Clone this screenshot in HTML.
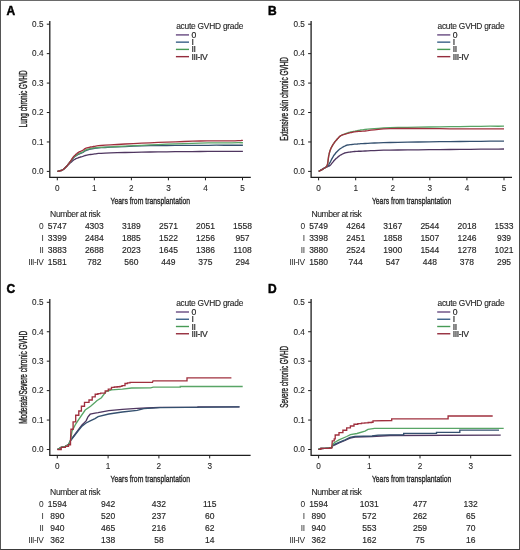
<!DOCTYPE html>
<html><head><meta charset="utf-8"><style>
html,body{margin:0;padding:0;background:#fff;}
body{width:520px;height:550px;overflow:hidden;position:relative;}
svg{display:block;font-family:"Liberation Sans", sans-serif;filter:blur(0.3px);}
</style></head><body>
<svg width="520" height="550" viewBox="0 0 520 550">
<rect x="0" y="0" width="520" height="550" fill="#fff"/>
<path d="M49.80,21.00 V177.30 H250.80" fill="none" stroke="#1e1e1e" stroke-width="1.3"/>
<line x1="46.80" y1="171.40" x2="49.80" y2="171.40" stroke="#1e1e1e" stroke-width="1"/>
<text x="43.50" y="174.20" text-anchor="end" font-size="8.2" fill="#262626" stroke="#262626" stroke-width="0.1">0.0</text>
<line x1="46.80" y1="141.96" x2="49.80" y2="141.96" stroke="#1e1e1e" stroke-width="1"/>
<text x="43.50" y="144.76" text-anchor="end" font-size="8.2" fill="#262626" stroke="#262626" stroke-width="0.1">0.1</text>
<line x1="46.80" y1="112.52" x2="49.80" y2="112.52" stroke="#1e1e1e" stroke-width="1"/>
<text x="43.50" y="115.32" text-anchor="end" font-size="8.2" fill="#262626" stroke="#262626" stroke-width="0.1">0.2</text>
<line x1="46.80" y1="83.08" x2="49.80" y2="83.08" stroke="#1e1e1e" stroke-width="1"/>
<text x="43.50" y="85.88" text-anchor="end" font-size="8.2" fill="#262626" stroke="#262626" stroke-width="0.1">0.3</text>
<line x1="46.80" y1="53.64" x2="49.80" y2="53.64" stroke="#1e1e1e" stroke-width="1"/>
<text x="43.50" y="56.44" text-anchor="end" font-size="8.2" fill="#262626" stroke="#262626" stroke-width="0.1">0.4</text>
<line x1="46.80" y1="24.20" x2="49.80" y2="24.20" stroke="#1e1e1e" stroke-width="1"/>
<text x="43.50" y="27.00" text-anchor="end" font-size="8.2" fill="#262626" stroke="#262626" stroke-width="0.1">0.5</text>
<line x1="57.30" y1="177.30" x2="57.30" y2="180.30" stroke="#1e1e1e" stroke-width="1"/>
<text x="57.30" y="190.50" text-anchor="middle" font-size="8.2" fill="#262626" stroke="#262626" stroke-width="0.1">0</text>
<line x1="94.34" y1="177.30" x2="94.34" y2="180.30" stroke="#1e1e1e" stroke-width="1"/>
<text x="94.34" y="190.50" text-anchor="middle" font-size="8.2" fill="#262626" stroke="#262626" stroke-width="0.1">1</text>
<line x1="131.38" y1="177.30" x2="131.38" y2="180.30" stroke="#1e1e1e" stroke-width="1"/>
<text x="131.38" y="190.50" text-anchor="middle" font-size="8.2" fill="#262626" stroke="#262626" stroke-width="0.1">2</text>
<line x1="168.42" y1="177.30" x2="168.42" y2="180.30" stroke="#1e1e1e" stroke-width="1"/>
<text x="168.42" y="190.50" text-anchor="middle" font-size="8.2" fill="#262626" stroke="#262626" stroke-width="0.1">3</text>
<line x1="205.46" y1="177.30" x2="205.46" y2="180.30" stroke="#1e1e1e" stroke-width="1"/>
<text x="205.46" y="190.50" text-anchor="middle" font-size="8.2" fill="#262626" stroke="#262626" stroke-width="0.1">4</text>
<line x1="242.50" y1="177.30" x2="242.50" y2="180.30" stroke="#1e1e1e" stroke-width="1"/>
<text x="242.50" y="190.50" text-anchor="middle" font-size="8.2" fill="#262626" stroke="#262626" stroke-width="0.1">5</text>
<text x="110.60" y="204.40" font-size="9.7" textLength="79.4" lengthAdjust="spacingAndGlyphs" fill="#262626" stroke="#262626" stroke-width="0.35">Years from transplantation</text>
<text transform="translate(26.70,98.90) rotate(-90)" x="0" y="0" text-anchor="middle" font-size="10.3" textLength="57" lengthAdjust="spacingAndGlyphs" fill="#262626" stroke="#262626" stroke-width="0.4">Lung chronic GVHD</text>
<text x="176.20" y="29.20" font-size="8.4" letter-spacing="-0.24" fill="#262626" stroke="#262626" stroke-width="0.12">acute GVHD grade</text>
<line x1="175.90" y1="34.90" x2="189.00" y2="34.90" stroke="#674a80" stroke-width="1.4"/>
<text x="191.50" y="37.90" font-size="8.6" letter-spacing="-0.4" fill="#262626" stroke="#262626" stroke-width="0.2">0</text>
<line x1="175.90" y1="42.15" x2="189.00" y2="42.15" stroke="#3a6088" stroke-width="1.4"/>
<text x="191.50" y="45.15" font-size="8.6" letter-spacing="-0.4" fill="#262626" stroke="#262626" stroke-width="0.2">I</text>
<line x1="175.90" y1="49.40" x2="189.00" y2="49.40" stroke="#479a55" stroke-width="1.4"/>
<text x="191.50" y="52.40" font-size="8.6" letter-spacing="-0.4" fill="#262626" stroke="#262626" stroke-width="0.2">II</text>
<line x1="175.90" y1="56.65" x2="189.00" y2="56.65" stroke="#952c3c" stroke-width="1.4"/>
<text x="191.50" y="59.65" font-size="8.6" letter-spacing="-0.4" fill="#262626" stroke="#262626" stroke-width="0.2">III-IV</text>
<polyline points="57.4,171.4 57.9,171.3 58.6,171.1 59.4,171.0 60.3,170.7 61.2,170.5 61.9,170.2 62.5,169.9 63.2,169.5 63.8,169.0 64.3,168.5 64.9,168.1 65.4,167.6 65.9,167.1 66.4,166.6 66.9,166.1 67.4,165.6 67.8,165.1 68.3,164.6 68.8,164.2 69.3,163.7 69.8,163.3 70.2,162.9 70.7,162.5 71.2,162.1 71.7,161.7 72.1,161.3 72.5,160.9 73.0,160.5 73.5,160.2 74.0,159.8 74.6,159.4 75.3,159.1 75.9,158.7 76.6,158.4 77.4,158.1 78.1,157.8 78.9,157.5 79.6,157.3 80.5,157.0 81.2,156.8 82.0,156.6 82.7,156.4 83.3,156.2 83.7,156.0 84.2,155.8 84.6,155.7 85.2,155.5 86.0,155.3 87.0,155.1 88.0,154.9 89.2,154.7 90.5,154.5 92.0,154.3 93.5,154.1 94.8,153.9 95.8,153.8 96.9,153.6 98.5,153.4 101.1,153.3 105.0,153.1 110.5,152.9 117.3,152.7 125.1,152.5 133.4,152.3 141.8,152.1 150.0,152.0 158.1,151.9 166.6,151.8 175.1,151.7 183.7,151.6 192.0,151.6 200.0,151.5 208.1,151.4 216.4,151.4 224.6,151.4 232.0,151.3 238.3,151.3 242.9,151.3" fill="none" stroke="#4f3660" stroke-width="1.35" stroke-linejoin="miter"/>
<polyline points="57.4,171.4 57.9,171.3 58.6,171.1 59.4,171.0 60.3,170.7 61.2,170.5 61.9,170.2 62.5,169.9 63.2,169.5 63.8,169.0 64.3,168.6 64.9,168.1 65.4,167.6 65.9,167.1 66.4,166.5 66.9,166.0 67.4,165.4 67.8,164.8 68.3,164.2 68.8,163.6 69.3,163.0 69.8,162.4 70.2,161.8 70.7,161.2 71.2,160.6 71.7,160.0 72.1,159.5 72.5,158.9 73.0,158.4 73.5,157.8 74.0,157.3 74.6,156.8 75.3,156.3 75.9,155.8 76.6,155.4 77.4,154.9 78.1,154.5 78.9,154.1 79.6,153.8 80.5,153.4 81.2,153.1 82.0,152.8 82.7,152.5 83.3,152.2 83.7,151.8 84.2,151.5 84.6,151.2 85.2,150.8 86.0,150.5 87.0,150.2 88.0,149.8 89.2,149.4 90.5,149.1 92.0,148.8 93.5,148.5 94.8,148.3 95.8,148.1 96.9,148.0 98.5,147.9 101.1,147.7 105.0,147.5 110.5,147.2 117.3,146.9 125.1,146.6 133.4,146.2 141.8,145.9 150.0,145.7 158.1,145.5 166.6,145.5 175.1,145.4 183.7,145.4 192.0,145.3 200.0,145.3 208.1,145.3 216.4,145.2 224.6,145.2 232.0,145.2 238.3,145.2 242.9,145.2" fill="none" stroke="#34506f" stroke-width="1.35" stroke-linejoin="miter"/>
<polyline points="57.4,171.4 57.9,171.3 58.6,171.1 59.4,171.0 60.3,170.7 61.2,170.5 61.9,170.2 62.5,169.9 63.2,169.5 63.8,169.0 64.3,168.6 64.9,168.1 65.4,167.6 65.9,167.1 66.4,166.5 66.9,166.0 67.4,165.4 67.8,164.8 68.3,164.2 68.8,163.6 69.3,162.9 69.8,162.3 70.2,161.7 70.7,161.0 71.2,160.4 71.7,159.8 72.1,159.2 72.5,158.7 73.0,158.1 73.5,157.5 74.0,157.0 74.6,156.5 75.3,155.9 75.9,155.4 76.6,154.9 77.4,154.4 78.1,154.0 78.9,153.6 79.6,153.3 80.5,153.0 81.2,152.6 82.0,152.3 82.7,152.0 83.3,151.6 83.7,151.3 84.2,150.9 84.6,150.5 85.2,150.1 86.0,149.8 87.0,149.5 88.0,149.1 89.2,148.8 90.5,148.5 92.0,148.2 93.5,148.0 94.8,147.8 95.8,147.7 96.9,147.6 98.5,147.5 101.1,147.4 105.0,147.2 110.5,146.9 117.3,146.5 125.1,146.1 133.4,145.7 141.8,145.3 150.0,144.9 158.1,144.6 166.6,144.2 175.1,143.9 183.7,143.6 192.0,143.3 200.0,143.1 208.1,142.9 216.4,142.8 224.6,142.8 232.0,142.8 238.3,142.7 242.9,142.7" fill="none" stroke="#58a566" stroke-width="1.35" stroke-linejoin="miter"/>
<polyline points="57.4,171.4 57.9,171.3 58.6,171.1 59.4,171.0 60.3,170.7 61.2,170.5 61.9,170.2 62.5,169.9 63.2,169.5 63.8,169.0 64.3,168.6 64.9,168.1 65.4,167.6 65.9,167.1 66.4,166.6 66.9,166.0 67.4,165.4 67.8,164.8 68.3,164.2 68.8,163.6 69.3,162.9 69.8,162.2 70.2,161.5 70.7,160.8 71.2,160.1 71.7,159.4 72.1,158.7 72.5,158.1 73.0,157.4 73.5,156.7 74.0,156.1 74.6,155.5 75.3,154.9 75.9,154.2 76.6,153.7 77.4,153.1 78.1,152.6 78.9,152.1 79.6,151.7 80.5,151.4 81.2,151.0 82.0,150.7 82.7,150.3 83.3,149.9 83.7,149.6 84.2,149.2 84.6,148.9 85.2,148.5 86.0,148.2 87.0,147.9 88.0,147.6 89.2,147.3 90.5,147.0 92.0,146.8 93.5,146.5 94.8,146.3 95.8,146.1 96.9,145.9 98.5,145.7 101.1,145.5 105.0,145.2 110.5,144.9 117.3,144.5 125.1,144.0 133.4,143.6 141.8,143.2 150.0,142.8 158.2,142.4 166.9,142.1 175.6,141.8 184.3,141.5 192.5,141.2 200.0,141.0 207.0,140.9 213.8,140.8 220.1,140.8 225.9,140.8 230.9,140.8 235.0,140.8 238.0,140.7 239.9,140.6 241.1,140.5 241.9,140.4 242.4,140.4 242.9,140.3" fill="none" stroke="#a0303e" stroke-width="1.35" stroke-linejoin="miter"/>
<text x="6.60" y="14.60" font-size="12" font-weight="bold" fill="#000" stroke="#000" stroke-width="0.45">A</text>
<text x="50.10" y="216.80" font-size="8.6" letter-spacing="-0.42" fill="#262626" stroke="#262626" stroke-width="0.1">Number at risk</text>
<text x="43.30" y="228.50" text-anchor="end" font-size="8.4" letter-spacing="-0.45" fill="#262626">0</text>
<text x="57.30" y="228.50" text-anchor="middle" font-size="8.5" fill="#262626" stroke="#262626" stroke-width="0.15">5747</text>
<text x="94.34" y="228.50" text-anchor="middle" font-size="8.5" fill="#262626" stroke="#262626" stroke-width="0.15">4303</text>
<text x="131.38" y="228.50" text-anchor="middle" font-size="8.5" fill="#262626" stroke="#262626" stroke-width="0.15">3189</text>
<text x="168.42" y="228.50" text-anchor="middle" font-size="8.5" fill="#262626" stroke="#262626" stroke-width="0.15">2571</text>
<text x="205.46" y="228.50" text-anchor="middle" font-size="8.5" fill="#262626" stroke="#262626" stroke-width="0.15">2051</text>
<text x="242.50" y="228.50" text-anchor="middle" font-size="8.5" fill="#262626" stroke="#262626" stroke-width="0.15">1558</text>
<text x="43.30" y="240.57" text-anchor="end" font-size="8.4" letter-spacing="-0.45" fill="#262626">I</text>
<text x="57.30" y="240.57" text-anchor="middle" font-size="8.5" fill="#262626" stroke="#262626" stroke-width="0.15">3399</text>
<text x="94.34" y="240.57" text-anchor="middle" font-size="8.5" fill="#262626" stroke="#262626" stroke-width="0.15">2484</text>
<text x="131.38" y="240.57" text-anchor="middle" font-size="8.5" fill="#262626" stroke="#262626" stroke-width="0.15">1885</text>
<text x="168.42" y="240.57" text-anchor="middle" font-size="8.5" fill="#262626" stroke="#262626" stroke-width="0.15">1522</text>
<text x="205.46" y="240.57" text-anchor="middle" font-size="8.5" fill="#262626" stroke="#262626" stroke-width="0.15">1256</text>
<text x="242.50" y="240.57" text-anchor="middle" font-size="8.5" fill="#262626" stroke="#262626" stroke-width="0.15">957</text>
<text x="43.30" y="252.64" text-anchor="end" font-size="8.4" letter-spacing="-0.45" fill="#262626">II</text>
<text x="57.30" y="252.64" text-anchor="middle" font-size="8.5" fill="#262626" stroke="#262626" stroke-width="0.15">3883</text>
<text x="94.34" y="252.64" text-anchor="middle" font-size="8.5" fill="#262626" stroke="#262626" stroke-width="0.15">2688</text>
<text x="131.38" y="252.64" text-anchor="middle" font-size="8.5" fill="#262626" stroke="#262626" stroke-width="0.15">2023</text>
<text x="168.42" y="252.64" text-anchor="middle" font-size="8.5" fill="#262626" stroke="#262626" stroke-width="0.15">1645</text>
<text x="205.46" y="252.64" text-anchor="middle" font-size="8.5" fill="#262626" stroke="#262626" stroke-width="0.15">1386</text>
<text x="242.50" y="252.64" text-anchor="middle" font-size="8.5" fill="#262626" stroke="#262626" stroke-width="0.15">1108</text>
<text x="43.30" y="264.71" text-anchor="end" font-size="8.4" letter-spacing="-0.45" fill="#262626">III-IV</text>
<text x="57.30" y="264.71" text-anchor="middle" font-size="8.5" fill="#262626" stroke="#262626" stroke-width="0.15">1581</text>
<text x="94.34" y="264.71" text-anchor="middle" font-size="8.5" fill="#262626" stroke="#262626" stroke-width="0.15">782</text>
<text x="131.38" y="264.71" text-anchor="middle" font-size="8.5" fill="#262626" stroke="#262626" stroke-width="0.15">560</text>
<text x="168.42" y="264.71" text-anchor="middle" font-size="8.5" fill="#262626" stroke="#262626" stroke-width="0.15">449</text>
<text x="205.46" y="264.71" text-anchor="middle" font-size="8.5" fill="#262626" stroke="#262626" stroke-width="0.15">375</text>
<text x="242.50" y="264.71" text-anchor="middle" font-size="8.5" fill="#262626" stroke="#262626" stroke-width="0.15">294</text>
<path d="M311.10,21.00 V177.30 H512.00" fill="none" stroke="#1e1e1e" stroke-width="1.3"/>
<line x1="308.10" y1="171.40" x2="311.10" y2="171.40" stroke="#1e1e1e" stroke-width="1"/>
<text x="304.80" y="174.20" text-anchor="end" font-size="8.2" fill="#262626" stroke="#262626" stroke-width="0.1">0.0</text>
<line x1="308.10" y1="141.96" x2="311.10" y2="141.96" stroke="#1e1e1e" stroke-width="1"/>
<text x="304.80" y="144.76" text-anchor="end" font-size="8.2" fill="#262626" stroke="#262626" stroke-width="0.1">0.1</text>
<line x1="308.10" y1="112.52" x2="311.10" y2="112.52" stroke="#1e1e1e" stroke-width="1"/>
<text x="304.80" y="115.32" text-anchor="end" font-size="8.2" fill="#262626" stroke="#262626" stroke-width="0.1">0.2</text>
<line x1="308.10" y1="83.08" x2="311.10" y2="83.08" stroke="#1e1e1e" stroke-width="1"/>
<text x="304.80" y="85.88" text-anchor="end" font-size="8.2" fill="#262626" stroke="#262626" stroke-width="0.1">0.3</text>
<line x1="308.10" y1="53.64" x2="311.10" y2="53.64" stroke="#1e1e1e" stroke-width="1"/>
<text x="304.80" y="56.44" text-anchor="end" font-size="8.2" fill="#262626" stroke="#262626" stroke-width="0.1">0.4</text>
<line x1="308.10" y1="24.20" x2="311.10" y2="24.20" stroke="#1e1e1e" stroke-width="1"/>
<text x="304.80" y="27.00" text-anchor="end" font-size="8.2" fill="#262626" stroke="#262626" stroke-width="0.1">0.5</text>
<line x1="318.60" y1="177.30" x2="318.60" y2="180.30" stroke="#1e1e1e" stroke-width="1"/>
<text x="318.60" y="190.50" text-anchor="middle" font-size="8.2" fill="#262626" stroke="#262626" stroke-width="0.1">0</text>
<line x1="355.68" y1="177.30" x2="355.68" y2="180.30" stroke="#1e1e1e" stroke-width="1"/>
<text x="355.68" y="190.50" text-anchor="middle" font-size="8.2" fill="#262626" stroke="#262626" stroke-width="0.1">1</text>
<line x1="392.76" y1="177.30" x2="392.76" y2="180.30" stroke="#1e1e1e" stroke-width="1"/>
<text x="392.76" y="190.50" text-anchor="middle" font-size="8.2" fill="#262626" stroke="#262626" stroke-width="0.1">2</text>
<line x1="429.84" y1="177.30" x2="429.84" y2="180.30" stroke="#1e1e1e" stroke-width="1"/>
<text x="429.84" y="190.50" text-anchor="middle" font-size="8.2" fill="#262626" stroke="#262626" stroke-width="0.1">3</text>
<line x1="466.92" y1="177.30" x2="466.92" y2="180.30" stroke="#1e1e1e" stroke-width="1"/>
<text x="466.92" y="190.50" text-anchor="middle" font-size="8.2" fill="#262626" stroke="#262626" stroke-width="0.1">4</text>
<line x1="504.00" y1="177.30" x2="504.00" y2="180.30" stroke="#1e1e1e" stroke-width="1"/>
<text x="504.00" y="190.50" text-anchor="middle" font-size="8.2" fill="#262626" stroke="#262626" stroke-width="0.1">5</text>
<text x="371.90" y="204.40" font-size="9.7" textLength="79.4" lengthAdjust="spacingAndGlyphs" fill="#262626" stroke="#262626" stroke-width="0.35">Years from transplantation</text>
<text transform="translate(288.00,98.90) rotate(-90)" x="0" y="0" text-anchor="middle" font-size="10.3" textLength="83.8" lengthAdjust="spacingAndGlyphs" fill="#262626" stroke="#262626" stroke-width="0.4">Extensive skin chronic GVHD</text>
<text x="437.50" y="29.20" font-size="8.4" letter-spacing="-0.24" fill="#262626" stroke="#262626" stroke-width="0.12">acute GVHD grade</text>
<line x1="437.20" y1="34.90" x2="450.30" y2="34.90" stroke="#674a80" stroke-width="1.4"/>
<text x="452.80" y="37.90" font-size="8.6" letter-spacing="-0.4" fill="#262626" stroke="#262626" stroke-width="0.2">0</text>
<line x1="437.20" y1="42.15" x2="450.30" y2="42.15" stroke="#3a6088" stroke-width="1.4"/>
<text x="452.80" y="45.15" font-size="8.6" letter-spacing="-0.4" fill="#262626" stroke="#262626" stroke-width="0.2">I</text>
<line x1="437.20" y1="49.40" x2="450.30" y2="49.40" stroke="#479a55" stroke-width="1.4"/>
<text x="452.80" y="52.40" font-size="8.6" letter-spacing="-0.4" fill="#262626" stroke="#262626" stroke-width="0.2">II</text>
<line x1="437.20" y1="56.65" x2="450.30" y2="56.65" stroke="#952c3c" stroke-width="1.4"/>
<text x="452.80" y="59.65" font-size="8.6" letter-spacing="-0.4" fill="#262626" stroke="#262626" stroke-width="0.2">III-IV</text>
<polyline points="318.7,171.4 319.4,171.0 320.5,170.3 321.7,169.6 323.0,168.9 324.2,168.2 325.1,167.7 325.7,167.4 326.2,167.2 326.6,167.0 326.9,166.9 327.2,166.8 327.6,166.6 328.1,166.4 328.5,166.2 329.0,166.0 329.5,165.8 330.0,165.4 330.5,165.0 331.1,164.4 331.6,163.7 332.2,162.9 332.9,162.1 333.5,161.3 334.2,160.5 334.9,159.8 335.6,159.1 336.4,158.3 337.2,157.7 337.9,157.0 338.7,156.4 339.5,155.8 340.2,155.3 341.0,154.8 341.8,154.4 342.5,154.0 343.3,153.6 344.0,153.3 344.7,153.0 345.3,152.8 346.0,152.6 346.8,152.5 347.8,152.3 348.9,152.1 350.2,152.0 351.6,151.8 353.1,151.6 354.5,151.5 356.0,151.4 357.3,151.3 358.3,151.2 359.4,151.2 360.8,151.2 362.6,151.1 365.0,151.0 367.8,150.9 370.9,150.7 374.3,150.6 378.5,150.4 383.6,150.2 390.0,150.1 398.0,150.0 407.6,149.9 418.2,149.8 429.1,149.7 439.9,149.6 450.0,149.5 460.0,149.4 470.4,149.3 480.8,149.2 490.2,149.1 498.2,149.1 504.0,149.0" fill="none" stroke="#4f3660" stroke-width="1.35" stroke-linejoin="miter"/>
<polyline points="318.7,171.4 319.4,171.0 320.5,170.4 321.7,169.7 323.0,168.9 324.2,168.2 325.1,167.7 325.7,167.3 326.2,167.0 326.6,166.8 326.9,166.6 327.3,166.3 327.6,166.0 327.9,165.7 328.2,165.3 328.5,165.0 328.8,164.6 329.1,164.0 329.6,163.2 330.2,162.1 330.9,160.7 331.7,159.2 332.6,157.7 333.4,156.2 334.2,155.0 335.0,154.0 335.7,153.0 336.4,152.2 337.2,151.4 337.9,150.7 338.7,150.0 339.5,149.3 340.2,148.7 341.0,148.2 341.8,147.7 342.5,147.2 343.3,146.8 344.0,146.4 344.7,146.1 345.3,145.8 346.0,145.5 346.8,145.2 347.8,145.0 348.9,144.8 350.2,144.6 351.6,144.5 353.1,144.3 354.5,144.2 356.0,144.1 357.3,144.0 358.3,143.9 359.4,143.8 360.8,143.7 362.6,143.6 365.0,143.5 367.8,143.4 370.9,143.2 374.3,143.0 378.5,142.8 383.6,142.7 390.0,142.5 398.0,142.3 407.6,142.2 418.2,142.0 429.1,141.9 439.9,141.7 450.0,141.6 460.0,141.5 470.4,141.4 480.8,141.3 490.2,141.2 498.2,141.1 504.0,141.1" fill="none" stroke="#34506f" stroke-width="1.35" stroke-linejoin="miter"/>
<polyline points="318.7,171.4 319.4,171.0 320.5,170.4 321.8,169.8 323.0,169.0 324.2,168.3 325.1,167.7 325.7,167.2 326.2,166.8 326.6,166.4 326.9,165.9 327.1,165.3 327.4,164.5 327.7,163.4 327.9,162.0 328.1,160.4 328.3,158.8 328.5,157.3 328.7,155.9 329.0,154.7 329.2,153.6 329.5,152.5 329.8,151.5 330.1,150.5 330.5,149.5 330.9,148.5 331.3,147.6 331.8,146.7 332.3,145.8 332.8,144.9 333.3,144.1 333.9,143.3 334.4,142.5 335.0,141.7 335.7,140.9 336.3,140.2 336.9,139.5 337.5,138.8 338.1,138.2 338.6,137.5 339.2,137.0 339.8,136.4 340.5,135.9 341.2,135.5 341.9,135.1 342.7,134.7 343.5,134.4 344.3,134.1 345.1,133.8 346.0,133.5 346.8,133.1 347.7,132.8 348.7,132.5 349.6,132.3 350.5,132.0 351.4,131.8 352.2,131.6 353.0,131.5 353.9,131.3 354.9,131.2 356.0,131.0 357.1,130.8 358.1,130.5 359.3,130.3 360.7,130.0 362.5,129.8 365.0,129.5 367.8,129.2 370.9,128.9 374.3,128.6 378.5,128.3 383.6,128.0 390.0,127.7 398.0,127.5 407.6,127.3 418.2,127.1 429.1,127.0 439.9,126.8 450.0,126.7 460.0,126.6 470.4,126.4 480.8,126.3 490.2,126.2 498.2,126.2 504.0,126.1" fill="none" stroke="#58a566" stroke-width="1.35" stroke-linejoin="miter"/>
<polyline points="318.7,171.4 319.4,171.0 320.5,170.4 321.8,169.8 323.0,169.0 324.2,168.3 325.1,167.7 325.7,167.2 326.2,166.8 326.6,166.4 326.9,165.9 327.1,165.3 327.4,164.5 327.7,163.4 327.9,162.0 328.1,160.4 328.3,158.8 328.5,157.3 328.7,155.9 329.0,154.7 329.2,153.6 329.5,152.5 329.8,151.5 330.1,150.5 330.5,149.5 330.9,148.5 331.3,147.6 331.8,146.7 332.3,145.8 332.8,144.9 333.3,144.1 333.9,143.3 334.4,142.5 335.0,141.7 335.7,140.9 336.3,140.2 336.9,139.5 337.5,138.8 338.1,138.2 338.6,137.5 339.2,136.9 339.8,136.4 340.5,135.9 341.2,135.5 341.9,135.2 342.7,134.9 343.5,134.6 344.3,134.4 345.1,134.1 346.0,133.8 346.8,133.6 347.7,133.4 348.7,133.1 349.6,132.9 350.5,132.7 351.4,132.5 352.2,132.3 353.0,132.1 353.9,131.9 354.9,131.8 356.0,131.6 357.1,131.5 358.1,131.4 359.3,131.4 360.7,131.3 362.5,131.2 365.0,131.0 367.8,130.7 370.9,130.2 374.3,129.8 378.5,129.3 383.6,128.9 390.0,128.6 398.0,128.5 407.6,128.5 418.2,128.5 429.1,128.6 439.9,128.7 450.0,128.8 460.0,128.8 470.4,128.8 480.8,128.9 490.2,128.9 498.2,128.9 504.0,128.9" fill="none" stroke="#a0303e" stroke-width="1.35" stroke-linejoin="miter"/>
<text x="267.90" y="14.60" font-size="12" font-weight="bold" fill="#000" stroke="#000" stroke-width="0.45">B</text>
<text x="311.40" y="216.80" font-size="8.6" letter-spacing="-0.42" fill="#262626" stroke="#262626" stroke-width="0.1">Number at risk</text>
<text x="304.60" y="228.50" text-anchor="end" font-size="8.4" letter-spacing="-0.45" fill="#262626">0</text>
<text x="318.60" y="228.50" text-anchor="middle" font-size="8.5" fill="#262626" stroke="#262626" stroke-width="0.15">5749</text>
<text x="355.68" y="228.50" text-anchor="middle" font-size="8.5" fill="#262626" stroke="#262626" stroke-width="0.15">4264</text>
<text x="392.76" y="228.50" text-anchor="middle" font-size="8.5" fill="#262626" stroke="#262626" stroke-width="0.15">3167</text>
<text x="429.84" y="228.50" text-anchor="middle" font-size="8.5" fill="#262626" stroke="#262626" stroke-width="0.15">2544</text>
<text x="466.92" y="228.50" text-anchor="middle" font-size="8.5" fill="#262626" stroke="#262626" stroke-width="0.15">2018</text>
<text x="504.00" y="228.50" text-anchor="middle" font-size="8.5" fill="#262626" stroke="#262626" stroke-width="0.15">1533</text>
<text x="304.60" y="240.57" text-anchor="end" font-size="8.4" letter-spacing="-0.45" fill="#262626">I</text>
<text x="318.60" y="240.57" text-anchor="middle" font-size="8.5" fill="#262626" stroke="#262626" stroke-width="0.15">3398</text>
<text x="355.68" y="240.57" text-anchor="middle" font-size="8.5" fill="#262626" stroke="#262626" stroke-width="0.15">2451</text>
<text x="392.76" y="240.57" text-anchor="middle" font-size="8.5" fill="#262626" stroke="#262626" stroke-width="0.15">1858</text>
<text x="429.84" y="240.57" text-anchor="middle" font-size="8.5" fill="#262626" stroke="#262626" stroke-width="0.15">1507</text>
<text x="466.92" y="240.57" text-anchor="middle" font-size="8.5" fill="#262626" stroke="#262626" stroke-width="0.15">1246</text>
<text x="504.00" y="240.57" text-anchor="middle" font-size="8.5" fill="#262626" stroke="#262626" stroke-width="0.15">939</text>
<text x="304.60" y="252.64" text-anchor="end" font-size="8.4" letter-spacing="-0.45" fill="#262626">II</text>
<text x="318.60" y="252.64" text-anchor="middle" font-size="8.5" fill="#262626" stroke="#262626" stroke-width="0.15">3880</text>
<text x="355.68" y="252.64" text-anchor="middle" font-size="8.5" fill="#262626" stroke="#262626" stroke-width="0.15">2524</text>
<text x="392.76" y="252.64" text-anchor="middle" font-size="8.5" fill="#262626" stroke="#262626" stroke-width="0.15">1900</text>
<text x="429.84" y="252.64" text-anchor="middle" font-size="8.5" fill="#262626" stroke="#262626" stroke-width="0.15">1544</text>
<text x="466.92" y="252.64" text-anchor="middle" font-size="8.5" fill="#262626" stroke="#262626" stroke-width="0.15">1278</text>
<text x="504.00" y="252.64" text-anchor="middle" font-size="8.5" fill="#262626" stroke="#262626" stroke-width="0.15">1021</text>
<text x="304.60" y="264.71" text-anchor="end" font-size="8.4" letter-spacing="-0.45" fill="#262626">III-IV</text>
<text x="318.60" y="264.71" text-anchor="middle" font-size="8.5" fill="#262626" stroke="#262626" stroke-width="0.15">1580</text>
<text x="355.68" y="264.71" text-anchor="middle" font-size="8.5" fill="#262626" stroke="#262626" stroke-width="0.15">744</text>
<text x="392.76" y="264.71" text-anchor="middle" font-size="8.5" fill="#262626" stroke="#262626" stroke-width="0.15">547</text>
<text x="429.84" y="264.71" text-anchor="middle" font-size="8.5" fill="#262626" stroke="#262626" stroke-width="0.15">448</text>
<text x="466.92" y="264.71" text-anchor="middle" font-size="8.5" fill="#262626" stroke="#262626" stroke-width="0.15">378</text>
<text x="504.00" y="264.71" text-anchor="middle" font-size="8.5" fill="#262626" stroke="#262626" stroke-width="0.15">295</text>
<path d="M49.80,299.10 V455.40 H250.60" fill="none" stroke="#1e1e1e" stroke-width="1.3"/>
<line x1="46.80" y1="449.50" x2="49.80" y2="449.50" stroke="#1e1e1e" stroke-width="1"/>
<text x="43.50" y="452.30" text-anchor="end" font-size="8.2" fill="#262626" stroke="#262626" stroke-width="0.1">0.0</text>
<line x1="46.80" y1="420.06" x2="49.80" y2="420.06" stroke="#1e1e1e" stroke-width="1"/>
<text x="43.50" y="422.86" text-anchor="end" font-size="8.2" fill="#262626" stroke="#262626" stroke-width="0.1">0.1</text>
<line x1="46.80" y1="390.62" x2="49.80" y2="390.62" stroke="#1e1e1e" stroke-width="1"/>
<text x="43.50" y="393.42" text-anchor="end" font-size="8.2" fill="#262626" stroke="#262626" stroke-width="0.1">0.2</text>
<line x1="46.80" y1="361.18" x2="49.80" y2="361.18" stroke="#1e1e1e" stroke-width="1"/>
<text x="43.50" y="363.98" text-anchor="end" font-size="8.2" fill="#262626" stroke="#262626" stroke-width="0.1">0.3</text>
<line x1="46.80" y1="331.74" x2="49.80" y2="331.74" stroke="#1e1e1e" stroke-width="1"/>
<text x="43.50" y="334.54" text-anchor="end" font-size="8.2" fill="#262626" stroke="#262626" stroke-width="0.1">0.4</text>
<line x1="46.80" y1="302.30" x2="49.80" y2="302.30" stroke="#1e1e1e" stroke-width="1"/>
<text x="43.50" y="305.10" text-anchor="end" font-size="8.2" fill="#262626" stroke="#262626" stroke-width="0.1">0.5</text>
<line x1="57.30" y1="455.40" x2="57.30" y2="458.40" stroke="#1e1e1e" stroke-width="1"/>
<text x="57.30" y="468.60" text-anchor="middle" font-size="8.2" fill="#262626" stroke="#262626" stroke-width="0.1">0</text>
<line x1="108.10" y1="455.40" x2="108.10" y2="458.40" stroke="#1e1e1e" stroke-width="1"/>
<text x="108.10" y="468.60" text-anchor="middle" font-size="8.2" fill="#262626" stroke="#262626" stroke-width="0.1">1</text>
<line x1="158.90" y1="455.40" x2="158.90" y2="458.40" stroke="#1e1e1e" stroke-width="1"/>
<text x="158.90" y="468.60" text-anchor="middle" font-size="8.2" fill="#262626" stroke="#262626" stroke-width="0.1">2</text>
<line x1="209.70" y1="455.40" x2="209.70" y2="458.40" stroke="#1e1e1e" stroke-width="1"/>
<text x="209.70" y="468.60" text-anchor="middle" font-size="8.2" fill="#262626" stroke="#262626" stroke-width="0.1">3</text>
<text x="110.60" y="482.00" font-size="9.7" textLength="79.4" lengthAdjust="spacingAndGlyphs" fill="#262626" stroke="#262626" stroke-width="0.35">Years from transplantation</text>
<text transform="translate(26.70,377.30) rotate(-90)" x="0" y="0" text-anchor="middle" font-size="10.3" textLength="93.1" lengthAdjust="spacingAndGlyphs" fill="#262626" stroke="#262626" stroke-width="0.4">Moderate/Severe chronic GVHD</text>
<text x="176.20" y="306.30" font-size="8.4" letter-spacing="-0.24" fill="#262626" stroke="#262626" stroke-width="0.12">acute GVHD grade</text>
<line x1="175.90" y1="312.00" x2="189.00" y2="312.00" stroke="#674a80" stroke-width="1.4"/>
<text x="191.50" y="315.00" font-size="8.6" letter-spacing="-0.4" fill="#262626" stroke="#262626" stroke-width="0.2">0</text>
<line x1="175.90" y1="319.25" x2="189.00" y2="319.25" stroke="#3a6088" stroke-width="1.4"/>
<text x="191.50" y="322.25" font-size="8.6" letter-spacing="-0.4" fill="#262626" stroke="#262626" stroke-width="0.2">I</text>
<line x1="175.90" y1="326.50" x2="189.00" y2="326.50" stroke="#479a55" stroke-width="1.4"/>
<text x="191.50" y="329.50" font-size="8.6" letter-spacing="-0.4" fill="#262626" stroke="#262626" stroke-width="0.2">II</text>
<line x1="175.90" y1="333.75" x2="189.00" y2="333.75" stroke="#952c3c" stroke-width="1.4"/>
<text x="191.50" y="336.75" font-size="8.6" letter-spacing="-0.4" fill="#262626" stroke="#262626" stroke-width="0.2">III-IV</text>
<polyline points="57.4,449.5 61.2,447.3 65.4,446.3 68.5,444.7 70.5,440.6 73.0,437.0 78.8,429.2 82.0,425.0 86.1,420.9 88.0,416.8 90.2,414.2 95.0,413.1 98.1,412.7 108.8,410.7 122.3,409.3 137.1,408.4 146.5,408.0 160.0,407.3 198.0,407.3 198.0,406.8 239.5,406.8" fill="none" stroke="#4f3660" stroke-width="1.35" stroke-linejoin="miter"/>
<polyline points="57.4,449.5 61.2,447.3 65.4,446.3 68.5,444.7 70.5,440.6 73.0,437.5 78.8,430.2 82.0,426.1 86.1,423.0 90.2,420.9 95.0,418.6 98.1,416.7 108.8,414.0 122.3,412.0 137.1,410.3 143.8,408.6 160.0,407.6 239.5,406.8" fill="none" stroke="#34506f" stroke-width="1.35" stroke-linejoin="miter"/>
<polyline points="57.4,449.5 61.2,447.3 65.4,446.3 68.5,444.7 70.5,440.6 72.0,431.3 75.7,424.0 78.8,419.4 85.2,410.0 90.6,406.2 95.2,402.3 96.8,400.8 101.4,397.7 106.0,391.5 111.5,389.8 122.3,389.1 131.7,388.0 150.6,387.8 153.3,387.1 180.3,387.1 180.3,386.5 242.7,386.5" fill="none" stroke="#58a566" stroke-width="1.35" stroke-linejoin="miter"/>
<polyline points="57.4,449.5 61.2,449.5 61.2,447.3 65.4,447.3 65.4,446.3 68.5,446.3 68.5,444.7 70.5,444.7 70.5,440.6 71.0,429.2 73.1,429.2 73.1,421.9 75.7,421.9 75.7,415.2 78.8,415.2 78.8,411.0 81.4,411.0 81.4,406.2 84.5,406.2 84.5,402.3 89.0,402.3 89.0,400.0 92.2,400.0 92.2,396.9 95.2,396.9 95.2,394.2 97.9,394.2 97.9,393.6 100.6,393.6 100.6,393.1 105.2,393.1 105.2,390.8 108.3,390.8 108.3,389.1 111.5,389.1 111.5,387.3 114.3,387.3 114.3,387.0 117.2,387.0 117.2,386.7 120.0,386.7 120.0,386.4 122.0,386.4 122.0,385.6 125.0,385.6 125.0,383.5 127.5,383.5 127.5,382.9 130.0,382.9 130.0,382.4 152.5,382.4 153.0,380.9 187.0,380.9 187.0,377.8 231.4,377.8" fill="none" stroke="#a0303e" stroke-width="1.35" stroke-linejoin="miter"/>
<text x="6.60" y="292.70" font-size="12" font-weight="bold" fill="#000" stroke="#000" stroke-width="0.45">C</text>
<text x="50.10" y="494.90" font-size="8.6" letter-spacing="-0.42" fill="#262626" stroke="#262626" stroke-width="0.1">Number at risk</text>
<text x="43.30" y="506.60" text-anchor="end" font-size="8.4" letter-spacing="-0.45" fill="#262626">0</text>
<text x="57.30" y="506.60" text-anchor="middle" font-size="8.5" fill="#262626" stroke="#262626" stroke-width="0.15">1594</text>
<text x="108.10" y="506.60" text-anchor="middle" font-size="8.5" fill="#262626" stroke="#262626" stroke-width="0.15">942</text>
<text x="158.90" y="506.60" text-anchor="middle" font-size="8.5" fill="#262626" stroke="#262626" stroke-width="0.15">432</text>
<text x="209.70" y="506.60" text-anchor="middle" font-size="8.5" fill="#262626" stroke="#262626" stroke-width="0.15">115</text>
<text x="43.30" y="518.67" text-anchor="end" font-size="8.4" letter-spacing="-0.45" fill="#262626">I</text>
<text x="57.30" y="518.67" text-anchor="middle" font-size="8.5" fill="#262626" stroke="#262626" stroke-width="0.15">890</text>
<text x="108.10" y="518.67" text-anchor="middle" font-size="8.5" fill="#262626" stroke="#262626" stroke-width="0.15">520</text>
<text x="158.90" y="518.67" text-anchor="middle" font-size="8.5" fill="#262626" stroke="#262626" stroke-width="0.15">237</text>
<text x="209.70" y="518.67" text-anchor="middle" font-size="8.5" fill="#262626" stroke="#262626" stroke-width="0.15">60</text>
<text x="43.30" y="530.74" text-anchor="end" font-size="8.4" letter-spacing="-0.45" fill="#262626">II</text>
<text x="57.30" y="530.74" text-anchor="middle" font-size="8.5" fill="#262626" stroke="#262626" stroke-width="0.15">940</text>
<text x="108.10" y="530.74" text-anchor="middle" font-size="8.5" fill="#262626" stroke="#262626" stroke-width="0.15">465</text>
<text x="158.90" y="530.74" text-anchor="middle" font-size="8.5" fill="#262626" stroke="#262626" stroke-width="0.15">216</text>
<text x="209.70" y="530.74" text-anchor="middle" font-size="8.5" fill="#262626" stroke="#262626" stroke-width="0.15">62</text>
<text x="43.30" y="542.81" text-anchor="end" font-size="8.4" letter-spacing="-0.45" fill="#262626">III-IV</text>
<text x="57.30" y="542.81" text-anchor="middle" font-size="8.5" fill="#262626" stroke="#262626" stroke-width="0.15">362</text>
<text x="108.10" y="542.81" text-anchor="middle" font-size="8.5" fill="#262626" stroke="#262626" stroke-width="0.15">138</text>
<text x="158.90" y="542.81" text-anchor="middle" font-size="8.5" fill="#262626" stroke="#262626" stroke-width="0.15">58</text>
<text x="209.70" y="542.81" text-anchor="middle" font-size="8.5" fill="#262626" stroke="#262626" stroke-width="0.15">14</text>
<path d="M311.10,299.10 V455.40 H511.30" fill="none" stroke="#1e1e1e" stroke-width="1.3"/>
<line x1="308.10" y1="449.50" x2="311.10" y2="449.50" stroke="#1e1e1e" stroke-width="1"/>
<text x="304.80" y="452.30" text-anchor="end" font-size="8.2" fill="#262626" stroke="#262626" stroke-width="0.1">0.0</text>
<line x1="308.10" y1="420.06" x2="311.10" y2="420.06" stroke="#1e1e1e" stroke-width="1"/>
<text x="304.80" y="422.86" text-anchor="end" font-size="8.2" fill="#262626" stroke="#262626" stroke-width="0.1">0.1</text>
<line x1="308.10" y1="390.62" x2="311.10" y2="390.62" stroke="#1e1e1e" stroke-width="1"/>
<text x="304.80" y="393.42" text-anchor="end" font-size="8.2" fill="#262626" stroke="#262626" stroke-width="0.1">0.2</text>
<line x1="308.10" y1="361.18" x2="311.10" y2="361.18" stroke="#1e1e1e" stroke-width="1"/>
<text x="304.80" y="363.98" text-anchor="end" font-size="8.2" fill="#262626" stroke="#262626" stroke-width="0.1">0.3</text>
<line x1="308.10" y1="331.74" x2="311.10" y2="331.74" stroke="#1e1e1e" stroke-width="1"/>
<text x="304.80" y="334.54" text-anchor="end" font-size="8.2" fill="#262626" stroke="#262626" stroke-width="0.1">0.4</text>
<line x1="308.10" y1="302.30" x2="311.10" y2="302.30" stroke="#1e1e1e" stroke-width="1"/>
<text x="304.80" y="305.10" text-anchor="end" font-size="8.2" fill="#262626" stroke="#262626" stroke-width="0.1">0.5</text>
<line x1="318.60" y1="455.40" x2="318.60" y2="458.40" stroke="#1e1e1e" stroke-width="1"/>
<text x="318.60" y="468.60" text-anchor="middle" font-size="8.2" fill="#262626" stroke="#262626" stroke-width="0.1">0</text>
<line x1="369.30" y1="455.40" x2="369.30" y2="458.40" stroke="#1e1e1e" stroke-width="1"/>
<text x="369.30" y="468.60" text-anchor="middle" font-size="8.2" fill="#262626" stroke="#262626" stroke-width="0.1">1</text>
<line x1="420.00" y1="455.40" x2="420.00" y2="458.40" stroke="#1e1e1e" stroke-width="1"/>
<text x="420.00" y="468.60" text-anchor="middle" font-size="8.2" fill="#262626" stroke="#262626" stroke-width="0.1">2</text>
<line x1="470.70" y1="455.40" x2="470.70" y2="458.40" stroke="#1e1e1e" stroke-width="1"/>
<text x="470.70" y="468.60" text-anchor="middle" font-size="8.2" fill="#262626" stroke="#262626" stroke-width="0.1">3</text>
<text x="371.90" y="482.00" font-size="9.7" textLength="79.4" lengthAdjust="spacingAndGlyphs" fill="#262626" stroke="#262626" stroke-width="0.35">Years from transplantation</text>
<text transform="translate(288.00,376.90) rotate(-90)" x="0" y="0" text-anchor="middle" font-size="10.3" textLength="61.8" lengthAdjust="spacingAndGlyphs" fill="#262626" stroke="#262626" stroke-width="0.4">Severe chronic GVHD</text>
<text x="437.50" y="306.30" font-size="8.4" letter-spacing="-0.24" fill="#262626" stroke="#262626" stroke-width="0.12">acute GVHD grade</text>
<line x1="437.20" y1="312.00" x2="450.30" y2="312.00" stroke="#674a80" stroke-width="1.4"/>
<text x="452.80" y="315.00" font-size="8.6" letter-spacing="-0.4" fill="#262626" stroke="#262626" stroke-width="0.2">0</text>
<line x1="437.20" y1="319.25" x2="450.30" y2="319.25" stroke="#3a6088" stroke-width="1.4"/>
<text x="452.80" y="322.25" font-size="8.6" letter-spacing="-0.4" fill="#262626" stroke="#262626" stroke-width="0.2">I</text>
<line x1="437.20" y1="326.50" x2="450.30" y2="326.50" stroke="#479a55" stroke-width="1.4"/>
<text x="452.80" y="329.50" font-size="8.6" letter-spacing="-0.4" fill="#262626" stroke="#262626" stroke-width="0.2">II</text>
<line x1="437.20" y1="333.75" x2="450.30" y2="333.75" stroke="#952c3c" stroke-width="1.4"/>
<text x="452.80" y="336.75" font-size="8.6" letter-spacing="-0.4" fill="#262626" stroke="#262626" stroke-width="0.2">III-IV</text>
<polyline points="318.4,449.4 320.8,448.5 324.6,448.3 329.4,448.0 331.8,447.5 333.0,445.5 335.0,444.8 339.0,443.0 345.0,440.5 350.0,438.2 355.0,437.0 372.0,436.5 390.0,435.5 500.7,435.1" fill="none" stroke="#4f3660" stroke-width="1.35" stroke-linejoin="miter"/>
<polyline points="318.4,449.4 320.8,448.5 324.6,448.3 329.4,448.0 331.8,447.5 333.0,445.0 335.0,444.1 339.0,442.4 345.0,439.8 350.0,437.5 355.0,436.3 372.0,436.0 378.0,435.2 390.0,434.9 403.7,434.9 403.7,433.4 436.5,433.4 436.5,432.3 459.8,432.3 459.8,430.1 499.0,430.1" fill="none" stroke="#34506f" stroke-width="1.35" stroke-linejoin="miter"/>
<polyline points="318.4,449.4 320.8,448.5 324.6,448.3 329.4,448.0 331.8,447.5 333.0,444.0 335.0,442.2 339.0,439.8 346.7,436.5 350.4,434.6 357.0,433.5 365.0,431.1 368.0,429.4 374.6,428.4 503.7,428.4" fill="none" stroke="#58a566" stroke-width="1.35" stroke-linejoin="miter"/>
<polyline points="318.4,449.4 320.8,449.4 320.8,448.5 324.6,448.3 329.4,448.3 329.4,448.0 331.8,448.0 331.8,447.5 332.3,440.8 334.2,440.8 334.2,438.8 335.2,438.8 335.2,435.0 339.0,435.0 339.0,432.6 342.9,432.6 342.9,430.2 346.7,430.2 346.7,427.8 350.4,427.8 350.4,426.0 354.0,426.0 354.0,424.2 357.8,424.2 357.8,423.6 361.5,423.6 361.5,423.1 364.8,423.1 364.8,422.8 368.2,422.8 368.2,422.5 371.5,422.5 371.5,422.2 373.0,422.2 373.0,420.8 391.7,420.5 391.7,418.8 448.1,418.8 448.1,416.0 492.7,416.0" fill="none" stroke="#a0303e" stroke-width="1.35" stroke-linejoin="miter"/>
<text x="267.90" y="292.70" font-size="12" font-weight="bold" fill="#000" stroke="#000" stroke-width="0.45">D</text>
<text x="311.40" y="494.90" font-size="8.6" letter-spacing="-0.42" fill="#262626" stroke="#262626" stroke-width="0.1">Number at risk</text>
<text x="304.60" y="506.60" text-anchor="end" font-size="8.4" letter-spacing="-0.45" fill="#262626">0</text>
<text x="318.60" y="506.60" text-anchor="middle" font-size="8.5" fill="#262626" stroke="#262626" stroke-width="0.15">1594</text>
<text x="369.30" y="506.60" text-anchor="middle" font-size="8.5" fill="#262626" stroke="#262626" stroke-width="0.15">1031</text>
<text x="420.00" y="506.60" text-anchor="middle" font-size="8.5" fill="#262626" stroke="#262626" stroke-width="0.15">477</text>
<text x="470.70" y="506.60" text-anchor="middle" font-size="8.5" fill="#262626" stroke="#262626" stroke-width="0.15">132</text>
<text x="304.60" y="518.67" text-anchor="end" font-size="8.4" letter-spacing="-0.45" fill="#262626">I</text>
<text x="318.60" y="518.67" text-anchor="middle" font-size="8.5" fill="#262626" stroke="#262626" stroke-width="0.15">890</text>
<text x="369.30" y="518.67" text-anchor="middle" font-size="8.5" fill="#262626" stroke="#262626" stroke-width="0.15">572</text>
<text x="420.00" y="518.67" text-anchor="middle" font-size="8.5" fill="#262626" stroke="#262626" stroke-width="0.15">262</text>
<text x="470.70" y="518.67" text-anchor="middle" font-size="8.5" fill="#262626" stroke="#262626" stroke-width="0.15">65</text>
<text x="304.60" y="530.74" text-anchor="end" font-size="8.4" letter-spacing="-0.45" fill="#262626">II</text>
<text x="318.60" y="530.74" text-anchor="middle" font-size="8.5" fill="#262626" stroke="#262626" stroke-width="0.15">940</text>
<text x="369.30" y="530.74" text-anchor="middle" font-size="8.5" fill="#262626" stroke="#262626" stroke-width="0.15">553</text>
<text x="420.00" y="530.74" text-anchor="middle" font-size="8.5" fill="#262626" stroke="#262626" stroke-width="0.15">259</text>
<text x="470.70" y="530.74" text-anchor="middle" font-size="8.5" fill="#262626" stroke="#262626" stroke-width="0.15">70</text>
<text x="304.60" y="542.81" text-anchor="end" font-size="8.4" letter-spacing="-0.45" fill="#262626">III-IV</text>
<text x="318.60" y="542.81" text-anchor="middle" font-size="8.5" fill="#262626" stroke="#262626" stroke-width="0.15">362</text>
<text x="369.30" y="542.81" text-anchor="middle" font-size="8.5" fill="#262626" stroke="#262626" stroke-width="0.15">162</text>
<text x="420.00" y="542.81" text-anchor="middle" font-size="8.5" fill="#262626" stroke="#262626" stroke-width="0.15">75</text>
<text x="470.70" y="542.81" text-anchor="middle" font-size="8.5" fill="#262626" stroke="#262626" stroke-width="0.15">16</text>
</svg>
<div style="position:absolute;left:0;top:0;width:518px;height:548px;border-style:solid;border-width:1px;border-color:#6a6a6a #4a4a4a #3a3a3a #555555;"></div>
</body></html>
